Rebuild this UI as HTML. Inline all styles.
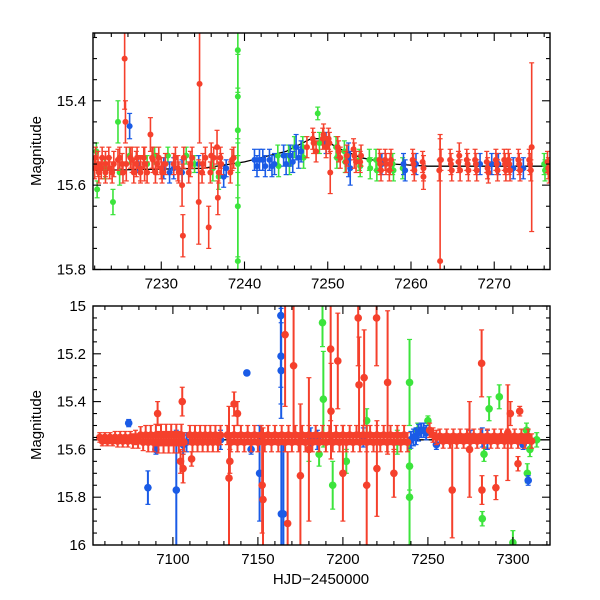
<!DOCTYPE html>
<html><head><meta charset="utf-8">
<style>
html,body{margin:0;padding:0;background:#fff;}
svg{display:block;font-family:"Liberation Sans",sans-serif;}
</style></head>
<body>
<svg id="chart" width="600" height="600" viewBox="0 0 600 600">
<defs>
<clipPath id="clipTop"><rect x="93" y="33" width="457" height="236.5"/></clipPath>
<clipPath id="clipBot"><rect x="93" y="306" width="457" height="239"/></clipPath>
</defs>
<g id="topPanel"></g>
<g id="botPanel"></g>
<text transform="translate(41,151) rotate(-90)" text-anchor="middle" font-size="15">Magnitude</text>
<text transform="translate(41,425) rotate(-90)" text-anchor="middle" font-size="15">Magnitude</text>
<text x="321" y="584" text-anchor="middle" font-size="15">HJD−2450000</text>
</svg>
<script>
// ---- Top panel data: [time, magnitude, error]
const topRed = [[7222.0,15.56,.025],[7222.4,15.55,.03],[7222.8,15.56,.025],[7223.3,15.55,.03],[7223.8,15.56,.025],[7224.3,15.55,.03],[7224.8,15.54,.025],[7225.3,15.55,.025],[7225.6,15.30,.12],[7225.7,15.45,.05],[7225.8,15.55,.04],[7226.5,15.54,.03],[7227.0,15.55,.03],[7227.5,15.56,.03],[7228.0,15.55,.04],[7228.7,15.48,.04],[7229,15.54,.03],[7229.5,15.55,.025],[7230.0,15.56,.025],[7230.5,15.55,.025],[7231.5,15.55,.025],[7232,15.56,.03],[7232.6,15.72,.05],[7232.5,15.60,.05],[7233.5,15.55,.03],[7234.6,15.36,.14],[7234.5,15.64,.1],[7235,15.55,.025],[7235.7,15.70,.05],[7236,15.53,.03],[7236.7,15.51,.04],[7236.8,15.63,.04],[7237.2,15.55,.025],[7238.5,15.54,.025],[7247.5,15.51,.025],[7248.3,15.50,.025],[7249.5,15.48,.025],[7250.2,15.50,.025],[7250.3,15.57,.05],[7251.3,15.52,.025],[7252.3,15.53,.025],[7253.2,15.53,.03],[7254,15.53,.025],[7256.3,15.55,.025],[7257,15.55,.025],[7257.5,15.55,.025],[7260.3,15.55,.025],[7261.5,15.56,.03],[7261.5,15.58,.03],[7263.5,15.78,.3],[7263.5,15.54,.05],[7264.8,15.55,.025],[7265.8,15.53,.03],[7266.8,15.55,.025],[7267.8,15.55,.025],[7269.2,15.56,.025],[7270.3,15.55,.025],[7271.3,15.55,.025],[7271.8,15.55,.025],[7273,15.55,.025],[7274.3,15.55,.025],[7274.5,15.51,.2],[7276.5,15.56,.025]];
const topRedBand = [[7222.1,15.535,.025],[7222.5,15.57,.025],[7222.9,15.535,.025],[7223.3,15.57,.025],[7223.7,15.535,.025],[7224.1,15.57,.025],[7225.0,15.535,.025],[7225.4,15.57,.025],[7226.3,15.535,.025],[7226.7,15.57,.025],[7227.1,15.535,.025],[7227.5,15.57,.025],[7227.9,15.535,.025],[7228.3,15.57,.025],[7228.9,15.535,.025],[7229.3,15.57,.025],[7229.7,15.535,.025],[7230.1,15.57,.025],[7231.7,15.535,.025],[7232.1,15.57,.025],[7232.7,15.535,.025],[7233.3,15.57,.025],[7233.7,15.535,.025],[7234.9,15.57,.025],[7235.3,15.535,.025],[7235.9,15.57,.025],[7236.3,15.535,.025],[7236.9,15.57,.025],[7237.1,15.535,.025],[7238.3,15.57,.025],[7238.7,15.535,.025],[7248.2,15.49,.025],[7248.6,15.52,.025],[7249.4,15.49,.025],[7249.8,15.51,.025],[7250.1,15.49,.025],[7251.2,15.51,.025],[7251.5,15.535,.025],[7252.2,15.545,.025],[7253.1,15.515,.025],[7253.4,15.545,.025],[7253.9,15.545,.025],[7256.2,15.54,.025],[7256.4,15.565,.025],[7256.9,15.54,.025],[7257.4,15.565,.025],[7257.6,15.54,.025],[7260.2,15.54,.025],[7260.4,15.565,.025],[7261.4,15.545,.025],[7263.4,15.565,.025],[7263.6,15.54,.025],[7264.7,15.54,.025],[7264.9,15.565,.025],[7265.7,15.545,.025],[7265.9,15.565,.025],[7266.7,15.54,.025],[7266.9,15.565,.025],[7267.7,15.54,.025],[7267.9,15.565,.025],[7269.1,15.545,.025],[7269.3,15.57,.025],[7270.2,15.54,.025],[7270.4,15.565,.025],[7271.2,15.54,.025],[7271.4,15.565,.025],[7271.7,15.54,.025],[7271.9,15.565,.025],[7272.9,15.54,.025],[7273.1,15.565,.025],[7274.2,15.54,.025],[7274.4,15.565,.025],[7276.4,15.545,.025],[7276.6,15.57,.025]];
const topGreen = [[7222.2,15.52,.02],[7222.3,15.61,.02],[7223.2,15.56,.025],[7224.2,15.64,.03],[7224.8,15.45,.05],[7225.0,15.57,.03],[7226.2,15.53,.02],[7228.3,15.55,.02],[7229.2,15.53,.02],[7230.8,15.53,.02],[7233.0,15.53,.02],[7234.0,15.55,.02],[7236.2,15.56,.03],[7236.9,15.58,.03],[7239.2,15.28,.1],[7239.2,15.39,.1],[7239.2,15.47,.1],[7239.2,15.65,.12],[7239.2,15.78,.15],[7239.2,15.55,.05],[7244.0,15.53,.025],[7244.1,15.555,.025],[7245.3,15.53,.025],[7245.4,15.55,.025],[7246.0,15.51,.025],[7247.0,15.51,.025],[7247.1,15.535,.025],[7248.8,15.43,.015],[7249.0,15.50,.025],[7251.0,15.51,.025],[7251.1,15.535,.025],[7252.0,15.52,.025],[7252.1,15.545,.025],[7253.8,15.54,.025],[7253.9,15.555,.025],[7255.0,15.54,.025],[7255.1,15.56,.025],[7255.8,15.54,.025],[7255.9,15.565,.025],[7257.8,15.55,.025],[7257.9,15.565,.025],[7259.0,15.56,.025],[7276.0,15.55,.025],[7276.1,15.565,.025]];
const topBlue = [[7226.2,15.46,.03],[7227.2,15.55,.02],[7230.3,15.56,.025],[7231.0,15.57,.025],[7231.5,15.56,.025],[7232.5,15.57,.03],[7234.5,15.55,.02],[7237.5,15.58,.025],[7237.8,15.56,.02],[7241.2,15.54,.025],[7241.5,15.555,.025],[7241.8,15.54,.025],[7242.2,15.54,.025],[7242.5,15.555,.025],[7243.0,15.54,.025],[7243.3,15.555,.025],[7243.6,15.55,.025],[7244.7,15.53,.025],[7245.0,15.55,.025],[7245.5,15.53,.025],[7245.8,15.545,.025],[7246.2,15.51,.03],[7246.5,15.535,.025],[7246.8,15.52,.025],[7249.8,15.50,.025],[7252.5,15.54,.04],[7252.7,15.56,.04],[7256.5,15.55,.025],[7259.1,15.55,.025],[7259.3,15.565,.025],[7260.6,15.55,.025],[7268.3,15.55,.025],[7269.7,15.55,.025],[7270.5,15.55,.025],[7272.3,15.56,.025],[7273.5,15.56,.025]];
const topModelT = [7221.8,7235,7240,7245,7248,7249.5,7251,7254,7258,7262,7276.7];
const topModelM = [15.565,15.56,15.545,15.52,15.49,15.49,15.51,15.535,15.55,15.555,15.555];
const topXTicks = [7230,7240,7250,7260,7270];
const topYTicks = [15.4,15.6,15.8];

// ---- Bottom panel data
const botRedBand = [[7057,15.55,.02],[7058.5,15.565,.02],[7060,15.55,.02],[7061.5,15.565,.02],[7063,15.55,.02],[7064.5,15.565,.02],[7066,15.55,.025],[7067.5,15.565,.025],[7069,15.55,.025],[7070.5,15.565,.025],[7072,15.55,.025],[7073.5,15.565,.025],[7075,15.55,.025],[7076.5,15.565,.03],[7078,15.55,.03],[7079.5,15.565,.03],
[7081,15.54,.035],[7082.5,15.57,.035],[7084,15.54,.04],[7085.5,15.57,.04],[7087,15.54,.04],[7088.5,15.57,.04],[7090,15.54,.045],[7091.5,15.57,.045],[7093,15.54,.045],[7094.5,15.57,.045],[7096,15.54,.045],[7097.5,15.57,.045],[7099,15.54,.045],[7100.5,15.57,.045],[7102,15.54,.045],[7103.5,15.57,.045],[7105,15.54,.045],[7106.5,15.57,.04],
[7110,15.54,.04],[7111.5,15.57,.04],[7113,15.54,.04],[7114.5,15.57,.04],[7116,15.54,.04],[7117.5,15.57,.04],[7119,15.54,.04],[7120.5,15.57,.04],[7122,15.54,.04],[7123.5,15.57,.04],[7125,15.54,.04],[7126.5,15.57,.04],[7128,15.54,.04],
[7132,15.54,.04],[7134,15.57,.04],[7136,15.54,.04],[7138,15.57,.04],[7140,15.54,.04],[7142,15.57,.04],[7144,15.54,.04],[7146,15.57,.04],[7148,15.54,.04],[7150,15.57,.04],[7152,15.54,.04],[7154,15.57,.04],[7156,15.54,.04],[7158,15.57,.04],[7160,15.54,.04],[7162,15.57,.04],[7164,15.54,.04],[7166,15.57,.04],[7168,15.54,.04],[7170,15.57,.04],[7172,15.54,.04],[7174,15.57,.04],[7176,15.54,.04],[7178,15.57,.04],[7180,15.54,.04],[7182,15.57,.04],[7184,15.54,.04],[7186,15.57,.04],[7188,15.54,.04],[7190,15.57,.04],[7192,15.54,.04],[7194,15.57,.04],[7196,15.54,.04],[7198,15.57,.04],[7200,15.54,.04],[7202,15.57,.04],[7204,15.54,.04],[7206,15.57,.04],[7208,15.54,.04],[7210,15.57,.04],[7212,15.54,.04],[7214,15.57,.04],[7216,15.54,.04],[7218,15.57,.04],[7220,15.54,.04],[7222,15.57,.04],[7224,15.54,.04],[7226,15.57,.04],[7228,15.54,.04],[7230,15.57,.04],[7232,15.54,.04],[7234,15.57,.04],[7236,15.54,.04],[7238,15.57,.04],
[7251,15.52,.03],[7253,15.54,.03],[7255,15.55,.03],[7257,15.545,.03],[7259,15.565,.03],[7261,15.545,.03],[7263,15.565,.03],[7265,15.545,.03],[7267,15.565,.03],[7269,15.545,.03],[7271,15.565,.03],[7273,15.545,.03],[7275,15.565,.03],[7277,15.545,.03],[7279,15.565,.03],[7281,15.545,.03],[7283,15.565,.03],[7285,15.545,.03],[7287,15.565,.03],[7289,15.545,.03],[7291,15.565,.03],[7293,15.545,.03],[7295,15.565,.03],[7297,15.545,.03],[7299,15.565,.03],[7301,15.545,.03],[7303,15.565,.03],[7305,15.545,.03],[7307,15.565,.03],[7309,15.545,.03],[7311,15.565,.03]];
const botRed = [[7091,15.45,.05],[7105.5,15.40,.06],[7104.5,15.65,.05],[7106,15.68,.06],[7111,15.64,.03],
[7133,15.72,.3],[7133.5,15.65,.05],[7136,15.41,.05],[7138,15.45,.05],[7153,15.81,.3],[7152.5,15.75,.2],[7166,15.12,.3],[7167.5,15.91,.3],[7171,15.25,.3],[7175,15.71,.3],[7180,15.6,.3],[7192.8,15.18,.3],[7193,15.44,.2],[7197,15.23,.2],[7200,15.7,.2],[7209,15.05,.2],[7209.5,15.33,.2],[7212.5,15.3,.2],[7214,15.75,.25],[7219.8,15.05,.2],[7220,15.68,.2],[7226.3,15.32,.3],[7230,15.7,.1],
[7264.3,15.77,.2],[7274.5,15.6,.2],[7281.6,15.24,.14],[7281.8,15.77,.06],[7290,15.76,.05],[7297,15.53,.2],[7298.5,15.45,.05],[7304,15.44,.02],[7303,15.66,.03]];
const botGreen = [[7180,15.6,.05],[7186,15.62,.05],[7188,15.07,.1],[7188.5,15.39,.2],[7194,15.75,.1],[7202,15.65,.05],[7214,15.48,.05],[7232,15.57,.05],[7239.2,15.32,.18],[7239.2,15.67,.1],[7239.2,15.8,.2],[7244,15.52,.03],[7250,15.48,.02],[7283,15.62,.03],[7286,15.43,.05],[7282,15.89,.03],[7292,15.38,.05],[7300,15.99,.05],[7308,15.52,.03],[7308.5,15.7,.04],[7310,15.6,.03],[7314,15.56,.03]];
const botBlue = [[7074,15.49,.015],[7085.3,15.76,.07],[7090,15.6,.02],[7102,15.77,.25],[7106,15.58,.04],[7108,15.57,.04],[7128,15.56,.04],[7143.5,15.28,.01],[7146,15.6,.02],[7151,15.70,.2],[7163.5,15.04,.3],[7163.6,15.21,.2],[7163.7,15.27,.2],[7163.8,15.87,.3],[7165,15.87,.3],[7181,15.55,.04],[7185,15.56,.04],[7212,15.55,.04],[7240,15.56,.035],[7241.5,15.55,.035],[7243,15.545,.035],[7244.5,15.53,.035],[7246,15.52,.03],[7247.5,15.52,.03],[7249,15.53,.03],[7255,15.58,.02],[7275,15.56,.04],[7282,15.55,.04],[7285,15.56,.04],[7306,15.58,.02],[7309,15.73,.02]];
const botModelT = [7053,7322];
const botModelM = [15.56,15.56];
const botXTicks = [7100,7150,7200,7250,7300];
const botYTicks = [15,15.2,15.4,15.6,15.8,16];

const NS = 'http://www.w3.org/2000/svg';
const COL = {red:'#f5402c', green:'#3ce43c', blue:'#1a5be6'};

const topX = t => 93 + (t - 7221.8) * (457 / (7276.7 - 7221.8));
const topY = m => 269.5 - (15.8 - m) * 421.8;
const botX = t => 93 + (t - 7053) * 1.7;
const botY = m => 306 + (m - 15) * 239;

function el(tag, attrs, parent) {
  const e = document.createElementNS(NS, tag);
  for (const k in attrs) e.setAttribute(k, attrs[k]);
  parent.appendChild(e);
  return e;
}

function drawPanel(g, clip, X, Y, x0, y0, x1, y1, xmin, xmax, ymin, ymax, xTicks, xMinorStep, yTicks, yMinorStep, series, mT, mM, yFmt, rad, ew) {
  const data = el('g', {'clip-path': 'url(#' + clip + ')'}, g);
  
  
  let d = '';
  mT.forEach((t, i) => { d += (i ? 'L' : 'M') + X(t).toFixed(1) + ' ' + Y(mM[i]).toFixed(1); });
  const ml = el('path', {d: d, fill: 'none', stroke: '#000', 'stroke-width': 1.3}, data);
  
  
  series.forEach(s => {
    const sg = el('g', {stroke: COL[s.color], fill: COL[s.color]}, data);
    
    
    s.pts.forEach(p => {
      const x = X(p[0]), y = Y(p[1]), ya = Y(p[1] - p[2]), yb = Y(p[1] + p[2]);
      el('line', {x1: x, x2: x, y1: ya, y2: yb, 'stroke-width': ew}, sg);
      el('line', {x1: x - 2.5, x2: x + 2.5, y1: ya, y2: ya, 'stroke-width': 1.2}, sg);
      el('line', {x1: x - 2.5, x2: x + 2.5, y1: yb, y2: yb, 'stroke-width': 1.2}, sg);
      const c = el('circle', {cx: x, cy: y, r: rad, stroke: 'none'}, sg);
      
      
    });
  });
  const fr = el('rect', {x: x0, y: y0, width: x1 - x0, height: y1 - y0, fill: 'none', stroke: '#000', 'stroke-width': 1.4}, g);
  
  
  const tk = el('g', {stroke: '#000', 'stroke-width': 1.1}, g);
  
  
  for (let t = Math.ceil(xmin / xMinorStep) * xMinorStep; t <= xmax; t += xMinorStep) {
    const x = X(t), major = xTicks.some(v => Math.abs(v - t) < 1e-6), L = major ? 8 : 4;
    el('line', {x1: x, x2: x, y1: y1, y2: y1 - L}, tk);
    el('line', {x1: x, x2: x, y1: y0, y2: y0 + L}, tk);
  }
  for (let k = Math.ceil(ymin / yMinorStep - 1e-6); k * yMinorStep <= ymax + 1e-6; k++) {
    const m = k * yMinorStep, y = Y(m), major = yTicks.some(v => Math.abs(v - m) < 1e-6), L = major ? 8 : 4;
    el('line', {x1: x0, x2: x0 + L, y1: y, y2: y}, tk);
    el('line', {x1: x1, x2: x1 - L, y1: y, y2: y}, tk);
  }
  xTicks.forEach(t => {
    const tx = el('text', {x: X(t), y: y1 + 19, 'text-anchor': 'middle', 'font-size': 15}, g);
    tx.textContent = t;
    
    
  });
  yTicks.forEach(m => {
    const tx = el('text', {x: x0 - 7, y: Y(m) + 5, 'text-anchor': 'end', 'font-size': 15}, g);
    tx.textContent = yFmt(m);
    
    
  });
}

drawPanel(document.getElementById('topPanel'), 'clipTop', topX, topY, 93, 33, 550, 269.5,
  7221.8, 7276.7, 15.24, 15.8, topXTicks, 2, topYTicks, 0.05,
  [{color:'green', pts: topGreen}, {color:'blue', pts: topBlue}, {color:'red', pts: topRedBand}, {color:'red', pts: topRed}],
  topModelT, topModelM, m => m.toFixed(1), 3, 1.6);
drawPanel(document.getElementById('botPanel'), 'clipBot', botX, botY, 93, 306, 550, 545,
  7053, 7322, 15, 16, botXTicks, 10, botYTicks, 0.05,
  [{color:'green', pts: botGreen}, {color:'blue', pts: botBlue}, {color:'red', pts: botRedBand}, {color:'red', pts: botRed}],
  botModelT, botModelM, m => (Math.abs(m - Math.round(m)) < 1e-6 ? String(Math.round(m)) : m.toFixed(1)), 3.8, 2);
</script>
</body></html>
